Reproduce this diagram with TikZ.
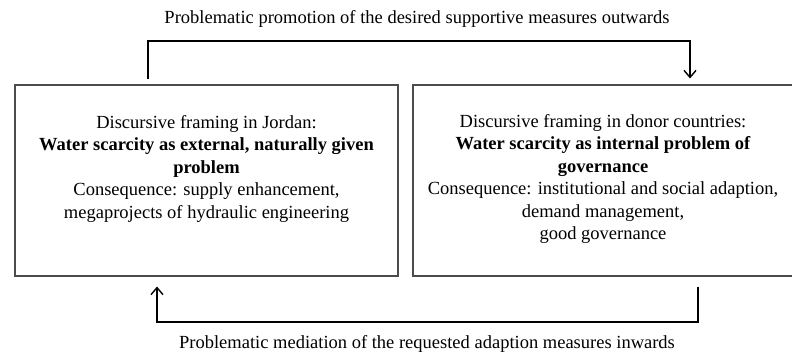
\documentclass[tikz,border=0pt]{standalone}
\usepackage{fontspec}
\setmainfont{Liberation Serif}
\usetikzlibrary{arrows.meta,positioning}
\begin{document}
\begin{tikzpicture}[x=1pt,y=-1pt,
  framebox/.style={draw=black!70,line width=1.1pt,minimum width=383pt,minimum height=191pt,inner sep=0pt},
  boxtext/.style={align=center,anchor=north,inner sep=0pt,font=\fontsize{18.5}{22.5}\selectfont},
  conn/.style={draw=black,line width=1.6pt,-{Straight Barb[length=7pt,width=12pt,line width=1.4pt]}},
  lbl/.style={inner sep=0pt,font=\fontsize{18.5}{22}\selectfont}]
\useasboundingbox (0,0) rectangle (792,356);
\fill[white] (0,0) rectangle (792,356);
\node[framebox] (L) at (206.5,180.5) {};
\node[framebox,minimum width=382pt] (R) at (604,180.5) {};
\node[boxtext] (Lt) at (206.5,115) {Discursive framing in Jordan:\\\textbf{Water scarcity as external, naturally given}\\\textbf{problem}\\Consequence: supply enhancement,\\megaprojects of hydraulic engineering};
\node[boxtext] (Rt) at (603,114) {Discursive framing in donor countries:\\\textbf{Water scarcity as internal problem of}\\\textbf{governance}\\Consequence: institutional and social adaption,\\demand management,\\good governance};
\coordinate (a) at (148,41);
\coordinate (b) at (690,41);
\coordinate (c) at (698,322);
\coordinate (d) at (157,322);
\draw[conn,shorten <=5pt,shorten >=6pt] (a |- L.north) -- (a) -- (b) -- (b |- R.north);
\draw[conn,shorten <=10pt,shorten >=10pt] (c |- R.south) -- (c) -- (d) -- (d |- L.south);
\node[lbl] (top) at (417,19) {Problematic promotion of the desired supportive measures outwards};
\node[lbl] (bot) at (427,344) {Problematic mediation of the requested adaption measures inwards};
\end{tikzpicture}
\end{document}
